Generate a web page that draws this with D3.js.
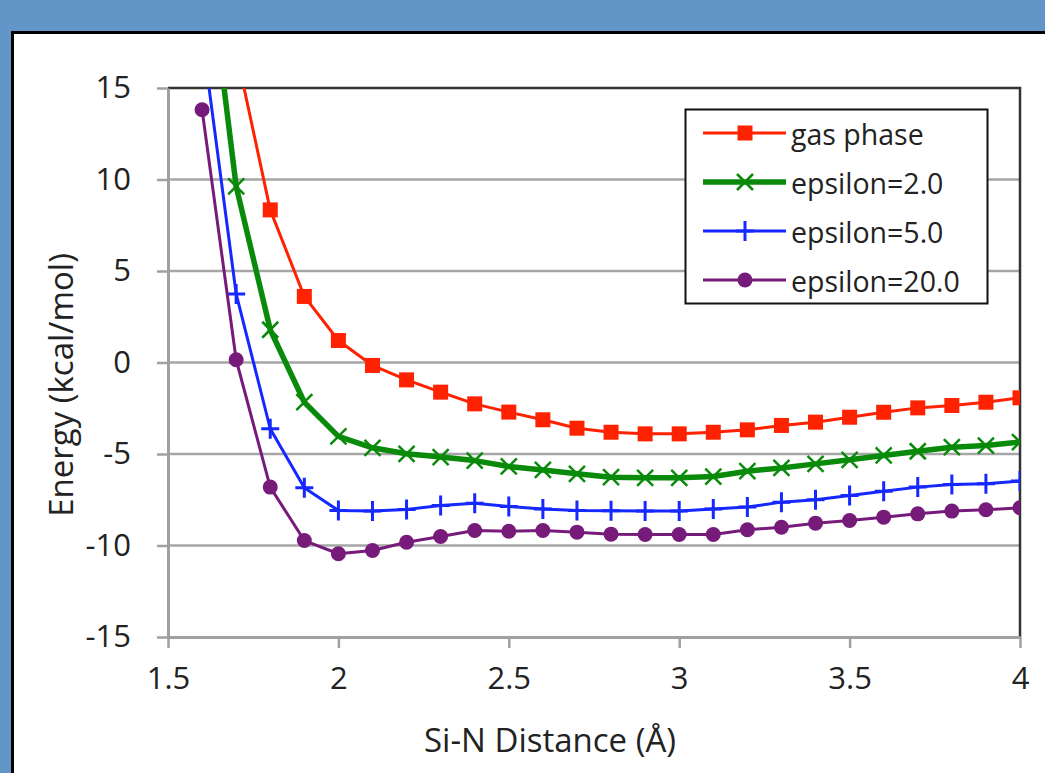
<!DOCTYPE html>
<html>
<head>
<meta charset="utf-8">
<script src="https://cdn.jsdelivr.net/npm/d3@7"></script>
<style>
  html, body { margin: 0; padding: 0; background: #6296c8; overflow: hidden; }
  svg { display: block; font-family: "Open Sans", sans-serif; }
</style>
</head>
<body>
<div id="chart"></div>
<script>
// data
const distances = [1.6, 1.7, 1.8, 1.9, 2.0, 2.1, 2.2, 2.3, 2.4, 2.5, 2.6, 2.7, 2.8,
                   2.9, 3.0, 3.1, 3.2, 3.3, 3.4, 3.5, 3.6, 3.7, 3.8, 3.9, 4.0];
const gasPhase = [null, 17.0, 8.34, 3.61, 1.2, -0.16, -0.95, -1.62, -2.26, -2.71, -3.13, -3.59, -3.81,
                  -3.90, -3.90, -3.81, -3.68, -3.44, -3.26, -2.99, -2.72, -2.48, -2.35, -2.17, -1.93];
const eps2 = [24.8, 9.62, 1.79, -2.17, -4.04, -4.66, -4.99, -5.17, -5.36, -5.68, -5.87, -6.08, -6.27,
              -6.3, -6.3, -6.23, -5.94, -5.76, -5.54, -5.32, -5.08, -4.85, -4.63, -4.54, -4.35];
const eps5 = [17.9, 3.75, -3.62, -6.85, -8.09, -8.12, -8.03, -7.81, -7.69, -7.87, -8.0, -8.09, -8.1,
              -8.12, -8.12, -8.0, -7.9, -7.63, -7.5, -7.27, -7.03, -6.81, -6.67, -6.63, -6.48];
const eps20 = [13.81, 0.15, -6.81, -9.73, -10.45, -10.27, -9.82, -9.51, -9.18, -9.22, -9.18, -9.27, -9.38,
               -9.40, -9.40, -9.40, -9.14, -9.0, -8.78, -8.63, -8.45, -8.27, -8.12, -8.05, -7.94];
const seriesNames = ["gas phase", "epsilon=2.0", "epsilon=5.0", "epsilon=20.0"];
const xTicks = [1.5, 2, 2.5, 3, 3.5, 4];
const yTicks = [-15, -10, -5, 0, 5, 10, 15];

const width = 1045, height = 773;
const plot = { left: 168, right: 1020, top: 88, bottom: 637 };

const svg = d3.select("#chart").append("svg")
    .attr("width", width)
    .attr("height", height);

// white panel with dark frame
svg.append("rect")
    .attr("x", 14.5).attr("y", 34.5)
    .attr("width", width + 20).attr("height", height)
    .attr("fill", "none").attr("stroke", "#9a9a9a").attr("stroke-width", 2);
svg.append("rect")
    .attr("x", 12.5).attr("y", 32.5)
    .attr("width", width + 20).attr("height", height)
    .attr("fill", "#fff").attr("stroke", "#000").attr("stroke-width", 3);

const x = d3.scaleLinear().domain([1.5, 4]).range([plot.left, plot.right]);
const y = d3.scaleLinear().domain([-15, 15]).range([plot.bottom, plot.top]);

// gridlines
svg.append("g")
    .selectAll("line")
    .data(yTicks.slice(1, -1))
    .join("line")
    .attr("x1", plot.left).attr("x2", plot.right)
    .attr("y1", d => y(d)).attr("y2", d => y(d))
    .attr("stroke", "#a6a6a6").attr("stroke-width", 2.5);

// top & right border
svg.append("path")
    .attr("d", `M${plot.left},${plot.top}H${plot.right}V${plot.bottom}`)
    .attr("fill", "none").attr("stroke", "#333").attr("stroke-width", 2.5);

// axes (plain hyphen for negatives, like the original)
const fmt = d => String(d);
const yAxis = svg.append("g")
    .attr("transform", `translate(${plot.left},0)`)
    .call(d3.axisLeft(y).tickValues(yTicks).tickFormat(fmt).tickSize(11).tickPadding(26).tickSizeOuter(0));
const xAxis = svg.append("g")
    .attr("transform", `translate(0,${plot.bottom})`)
    .call(d3.axisBottom(x).tickValues(xTicks).tickFormat(fmt).tickSize(11).tickPadding(19).tickSizeOuter(0));

[xAxis, yAxis].forEach(ax => {
    ax.select(".domain").attr("stroke", "#a0a0a0").attr("stroke-width", 3);
    ax.selectAll(".tick line").attr("stroke", "#a0a0a0").attr("stroke-width", 2.5);
    ax.selectAll("text")
        .attr("fill", "#222")
        .style("font-family", "'Open Sans', sans-serif")
        .style("font-size", "31px");
});

// axis titles
svg.append("text")
    .attr("transform", "translate(60,385) rotate(-90)")
    .attr("text-anchor", "middle")
    .attr("dominant-baseline", "central")
    .attr("font-size", "33px")
    .attr("fill", "#222")
    .text("Energy (kcal/mol)");
svg.append("text")
    .attr("x", 550).attr("y", 752)
    .attr("text-anchor", "middle")
    .attr("font-size", "33px")
    .attr("fill", "#222")
    .text("Si-N Distance (Å)");

// series
const series = [
    { name: seriesNames[0], values: gasPhase, color: "#ff2200", lw: 3, marker: "square" },
    { name: seriesNames[1], values: eps2, color: "#0a8a0a", lw: 5.5, marker: "cross" },
    { name: seriesNames[2], values: eps5, color: "#1428ff", lw: 3, marker: "plus" },
    { name: seriesNames[3], values: eps20, color: "#771b7b", lw: 3, marker: "circle" }
];

svg.append("clipPath").attr("id", "clip")
    .append("rect")
    .attr("x", plot.left).attr("y", plot.top)
    .attr("width", plot.right - plot.left).attr("height", plot.bottom - plot.top);

const line = d3.line()
    .defined(d => d.v !== null)
    .x(d => x(d.x)).y(d => y(d.v));

function drawMarker(g, type, color) {
    if (type === "square") {
        g.append("rect").attr("x", -7.5).attr("y", -7.5).attr("width", 15).attr("height", 15)
            .attr("fill", color);
    } else if (type === "circle") {
        g.append("circle").attr("r", 7.5).attr("fill", color);
    } else if (type === "cross") {
        g.append("path").attr("d", "M-8,-8L8,8M-8,8L8,-8")
            .attr("stroke", color).attr("stroke-width", 2.5).attr("fill", "none");
    } else if (type === "plus") {
        g.append("path").attr("d", "M-9,0H9M0,-10V10")
            .attr("stroke", color).attr("stroke-width", 3).attr("fill", "none");
    }
}

const plotG = svg.append("g").attr("clip-path", "url(#clip)");
series.forEach(s => {
    const pts = distances.map((d, i) => ({ x: d, v: s.values[i] }));
    plotG.append("path")
        .datum(pts)
        .attr("d", line)
        .attr("fill", "none")
        .attr("stroke", s.color)
        .attr("stroke-width", s.lw)
        .attr("stroke-linejoin", "round");
    plotG.selectAll(null)
        .data(pts.filter(p => p.v !== null))
        .join("g")
        .attr("transform", p => `translate(${x(p.x)},${y(p.v)})`)
        .each(function() { drawMarker(d3.select(this), s.marker, s.color); });
});

// legend
const legend = svg.append("g");
legend.append("rect")
    .attr("x", 685.5).attr("y", 109.5)
    .attr("width", 302).attr("height", 194)
    .attr("fill", "#fff").attr("stroke", "#111").attr("stroke-width", 2);
const rowY = [133, 182, 231, 280];
series.forEach((s, i) => {
    const row = legend.append("g").attr("transform", `translate(0,${rowY[i]})`);
    row.append("line")
        .attr("x1", 703).attr("x2", 786)
        .attr("stroke", s.color).attr("stroke-width", s.lw);
    const m = row.append("g").attr("transform", "translate(745,0)");
    drawMarker(m, s.marker, s.color);
    row.append("text")
        .attr("x", 791).attr("y", 1)
        .attr("dominant-baseline", "central")
        .attr("font-size", "28.5px")
        .attr("fill", "#222")
        .text(s.name);
});
</script>
</body>
</html>
